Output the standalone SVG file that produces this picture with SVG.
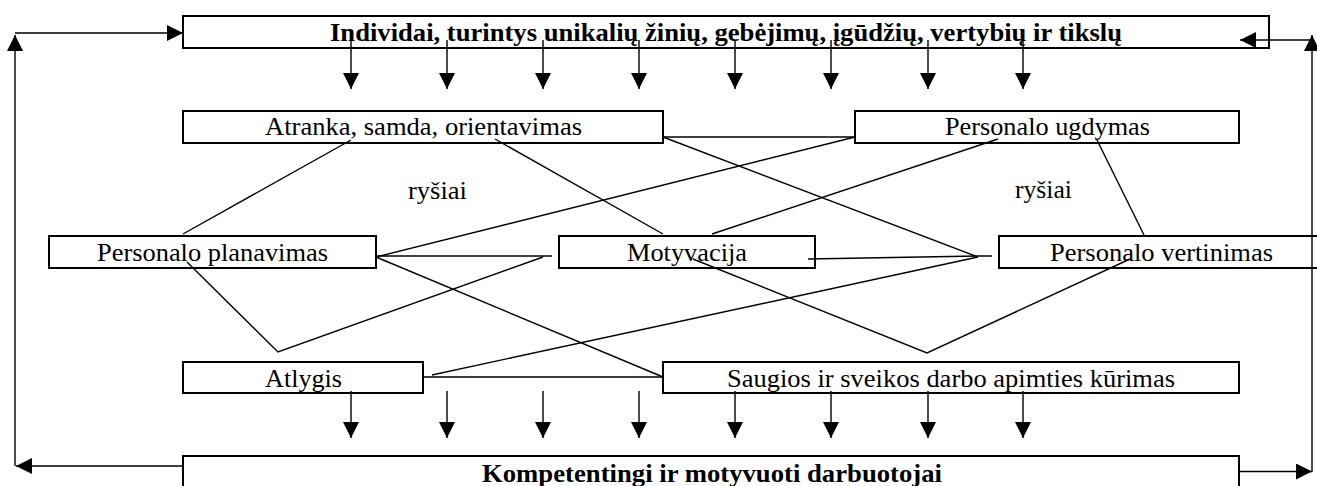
<svg xmlns="http://www.w3.org/2000/svg" width="1317" height="486" viewBox="0 0 1317 486">
<style>
.box{fill:none;stroke:#000;stroke-width:2}
.t{font-family:"Liberation Serif","Times New Roman",serif;font-size:26px;fill:#000}
.b{font-weight:bold}
.ln{stroke:#000;stroke-width:1.4;fill:none}
.ar{stroke:#000;stroke-width:1.4;fill:none;marker-end:url(#ah)}
</style>
<defs>
<marker id="ah" markerUnits="userSpaceOnUse" markerWidth="16" markerHeight="16" refX="16" refY="8" orient="auto">
<path d="M0,0 L16,8 L0,16 z" fill="#000"/>
</marker>
</defs>
<rect width="1317" height="486" fill="#fff"/>
<g id="n-top"><rect class="box" x="183" y="16" width="1086" height="32"/><text class="t b" x="330" y="41" textLength="792" lengthAdjust="spacingAndGlyphs">Individai, turintys unikalių žinių, gebėjimų, įgūdžių, vertybių ir tikslų</text></g>
<g id="n-atranka"><rect class="box" x="183" y="111" width="480" height="32"/><text class="t" x="265" y="135" textLength="317" lengthAdjust="spacingAndGlyphs">Atranka, samda, orientavimas</text></g>
<g id="n-ugdymas"><rect class="box" x="855" y="111" width="384" height="32"/><text class="t" x="945" y="135" textLength="205" lengthAdjust="spacingAndGlyphs">Personalo ugdymas</text></g>
<g id="l-rysiai1"><text class="t" x="408" y="199" textLength="59" lengthAdjust="spacingAndGlyphs">ryšiai</text></g>
<g id="l-rysiai2"><text class="t" x="1015" y="198" textLength="57" lengthAdjust="spacingAndGlyphs">ryšiai</text></g>
<g id="n-planavimas"><rect class="box" x="49" y="236" width="327" height="32"/><text class="t" x="97" y="261" textLength="231" lengthAdjust="spacingAndGlyphs">Personalo planavimas</text></g>
<g id="n-motyvacija"><rect class="box" x="559" y="236" width="256" height="32"/><text class="t" x="627" y="261" textLength="120" lengthAdjust="spacingAndGlyphs">Motyvacija</text></g>
<g id="n-vertinimas"><rect class="box" x="999" y="236" width="325" height="32"/><text class="t" x="1050" y="261" textLength="223" lengthAdjust="spacingAndGlyphs">Personalo vertinimas</text></g>
<g id="n-atlygis"><rect class="box" x="183" y="362" width="240" height="31"/><text class="t" x="265" y="387" textLength="77" lengthAdjust="spacingAndGlyphs">Atlygis</text></g>
<g id="n-saugios"><rect class="box" x="663" y="362" width="576" height="31"/><text class="t" x="727" y="387" textLength="448" lengthAdjust="spacingAndGlyphs">Saugios ir sveikos darbo apimties kūrimas</text></g>
<g id="n-bottom"><rect class="box" x="183" y="456" width="1056" height="40"/><text class="t b" x="482" y="482" textLength="460" lengthAdjust="spacingAndGlyphs">Kompetentingi ir motyvuoti darbuotojai</text></g>
<g id="connectors">
<path class="ar" d="M351,40V89"/><path class="ar" d="M447,40V89"/><path class="ar" d="M543,40V89"/><path class="ar" d="M639,40V89"/>
<path class="ar" d="M735,40V89"/><path class="ar" d="M831,40V89"/><path class="ar" d="M928,40V89"/><path class="ar" d="M1023,40V89"/>
<path class="ar" d="M351,391V438"/><path class="ar" d="M447,391V438"/><path class="ar" d="M543,391V438"/><path class="ar" d="M639,391V438"/>
<path class="ar" d="M735,391V438"/><path class="ar" d="M831,391V438"/><path class="ar" d="M928,391V438"/><path class="ar" d="M1023,391V438"/>
<path class="ar" d="M183,466H16"/>
<path class="ar" d="M15,466V35"/>
<path class="ar" d="M15,33H183"/>
<path class="ar" d="M1239,471.5H1312"/>
<path class="ar" d="M1312,472V35"/>
<path class="ar" d="M1312,40H1240"/>
<path class="ln" d="M351,140L183,234"/>
<path class="ln" d="M495,139L663,234"/>
<path class="ln" d="M663,137H855"/>
<path class="ln" d="M663,137L978,257"/>
<path class="ln" d="M855,137L376,257"/>
<path class="ln" d="M998,139L712,234"/>
<path class="ln" d="M1097,140L1144,235"/>
<path class="ln" d="M376,256H552"/>
<path class="ln" d="M543,257L278,352L187,262"/>
<path class="ln" d="M376,257L663,377"/>
<path class="ln" d="M423,377H663"/>
<path class="ln" d="M432,375L978,257"/>
<path class="ln" d="M693,259L927,353L1130,259"/>
<path class="ln" d="M808,259L978,256H992"/>
</g>
</svg>
